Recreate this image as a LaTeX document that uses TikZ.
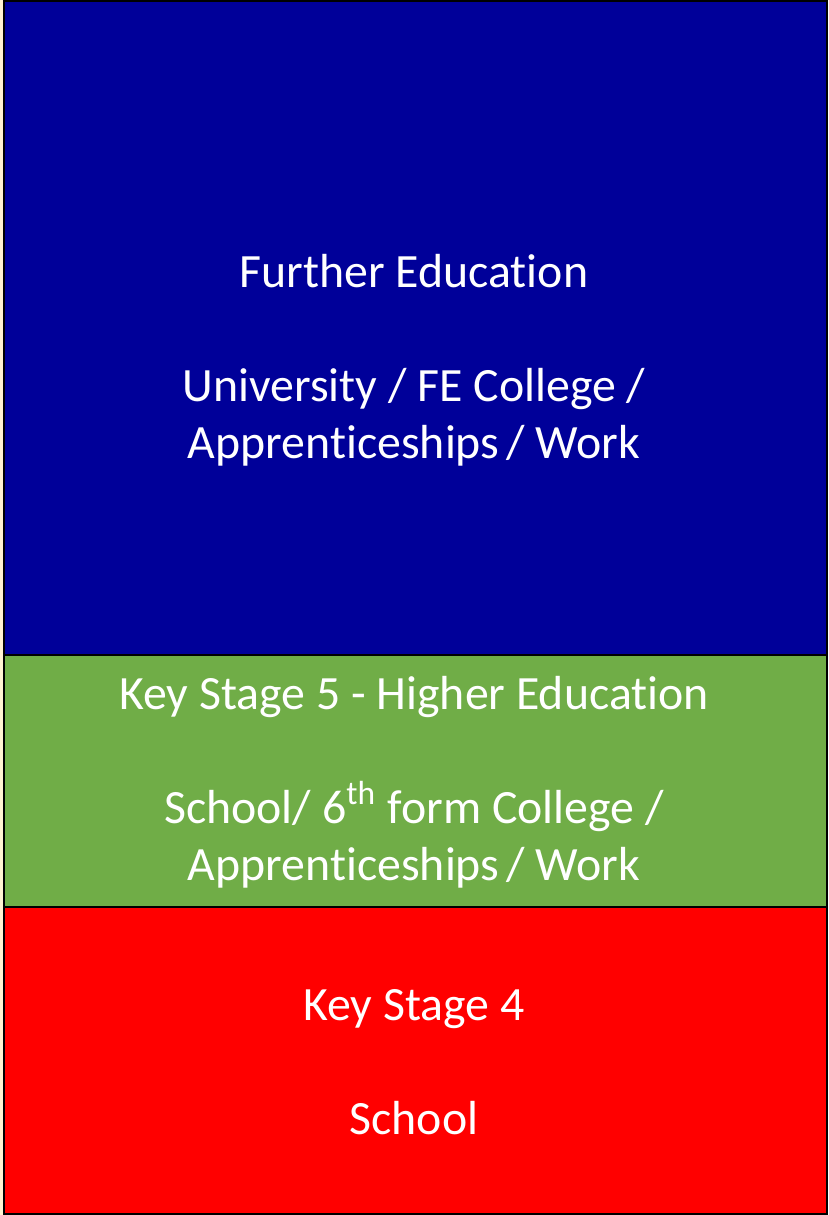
\documentclass[tikz,border=0pt]{standalone}
\usepackage{fontspec}
\setmainfont[Ligatures={NoCommon,NoRare,NoContextual},Contextuals={NoAlternate}]{Carlito}
\definecolor{feblue}{HTML}{000099}
\definecolor{ksgreen}{HTML}{70AD47}
\definecolor{ksred}{HTML}{FF0000}
\definecolor{paper}{HTML}{FFF2D2}
\tikzset{
  band/.style={draw=black, line width=0.6pt, rectangle, minimum width=8.23cm, inner sep=0pt},
  bandtext/.style={text=white, align=center, font=\fontsize{13.6}{16.2}\selectfont}
}
\begin{document}
\begin{tikzpicture}
\fill[paper] (0,0) rectangle (8.28,12.15);
\useasboundingbox (0,0) rectangle (8.28,12.15);

\node[band, fill=feblue, minimum height=6.54cm] (fe) at (4.155,8.87) {};
\node[band, fill=ksgreen, minimum height=2.52cm] (ks5) at (4.155,4.34) {};
\node[band, fill=ksred, minimum height=3.07cm] (ks4) at (4.155,1.545) {};

\node[bandtext] (fetext) at (4.14,8.55) {Further Education\\[16.2pt]University / FE College /\\Apprenticeships\hspace{0.15em}/ Work};
\node[bandtext] (ks5text) at (4.14,4.33) {Key Stage 5 - Higher Education\\[16.2pt]School/ 6\textsuperscript{th} form College /\\Apprenticeships\hspace{0.15em}/ Work};
\node[bandtext] (ks4text) at (4.14,1.53) {Key Stage 4\\[16.2pt]School};
\end{tikzpicture}
\end{document}
